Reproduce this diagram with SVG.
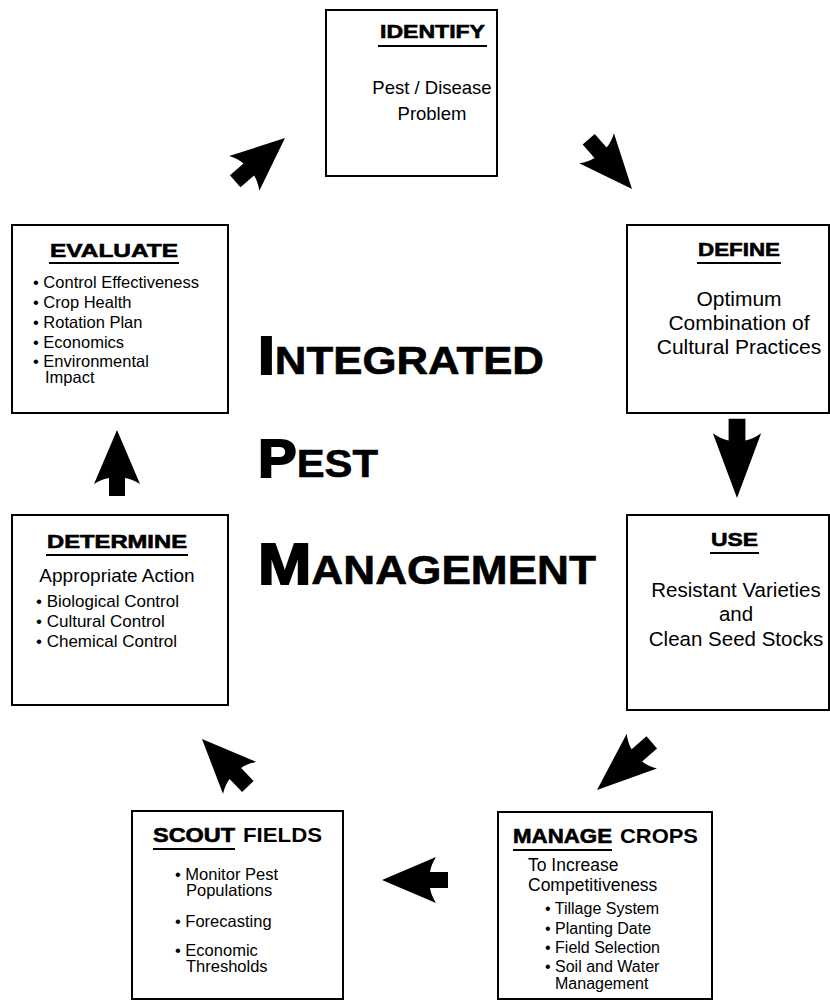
<svg xmlns="http://www.w3.org/2000/svg" xmlns:xlink="http://www.w3.org/1999/xlink" width="830" height="1000" viewBox="0 0 830 1000">
<defs>
<style>
.box{fill:#fff;stroke:#000;stroke-width:2}
.ttl{font-family:"Liberation Sans",Arial,sans-serif;font-weight:bold;font-size:19px;fill:#000;stroke:#000;stroke-width:0.6}
.ttl2{font-family:"Liberation Sans",Arial,sans-serif;font-weight:bold;font-size:19px;fill:#000}
.ul{stroke:#000;stroke-width:2}
.c{font-family:"Liberation Sans",Arial,sans-serif;font-size:19px;fill:#000;text-anchor:middle}
.b{font-family:"Liberation Sans",Arial,sans-serif;font-size:16px;fill:#000}
.big{font-family:"Liberation Sans",Arial,sans-serif;font-weight:bold;fill:#000;stroke:#000}
.arr{fill:#000}
</style>
<path id="arrow" d="M0,0 L23,54 Q15,49 8,48 L8,66 L-8,66 L-8,48 Q-15,49 -23,54 Z"/>
</defs>
<rect width="830" height="1000" fill="#fff"/>

<g id="connectors" class="arr">
<use xlink:href="#arrow" transform="translate(285,138) rotate(49)"/>
<use xlink:href="#arrow" transform="translate(632,189) rotate(139)"/>
<use xlink:href="#arrow" transform="translate(737,498) rotate(180) scale(1.05,1.2)"/>
<use xlink:href="#arrow" transform="translate(597,790) rotate(-131) scale(1,1.1)"/>
<use xlink:href="#arrow" transform="translate(382,880) rotate(-90)"/>
<use xlink:href="#arrow" transform="translate(202,739) rotate(-44)"/>
<use xlink:href="#arrow" transform="translate(117,430)"/>
</g>

<g id="identify">
<rect class="box" x="326" y="10" width="171" height="166"/>
<text class="ttl" x="380" y="38" textLength="105" lengthAdjust="spacingAndGlyphs">IDENTIFY</text>
<line class="ul" x1="378" y1="46" x2="487" y2="46"/>
<text class="c" x="432" y="94" style="font-size:18.5px">Pest / Disease</text>
<text class="c" x="432" y="120" style="font-size:18.5px">Problem</text>
</g>

<g id="define">
<rect class="box" x="627" y="225" width="202" height="188"/>
<text class="ttl" x="698" y="256" textLength="82" lengthAdjust="spacingAndGlyphs">DEFINE</text>
<line class="ul" x1="697" y1="263" x2="781" y2="263"/>
<text class="c" x="739" y="306" style="font-size:21px">Optimum</text>
<text class="c" x="739" y="330" style="font-size:21px">Combination of</text>
<text class="c" x="739" y="354" style="font-size:21px">Cultural Practices</text>
</g>

<g id="use">
<rect class="box" x="627" y="515" width="202" height="195"/>
<text class="ttl" x="711" y="546" textLength="47" lengthAdjust="spacingAndGlyphs">USE</text>
<line class="ul" x1="710" y1="553" x2="759" y2="553"/>
<text class="c" x="736" y="597" style="font-size:20.5px">Resistant Varieties</text>
<text class="c" x="736" y="621" style="font-size:20.5px">and</text>
<text class="c" x="736" y="646" style="font-size:20.5px">Clean Seed Stocks</text>
</g>

<g id="manage">
<rect class="box" x="498" y="812" width="214" height="187"/>
<text class="ttl" x="513" y="843" style="font-size:20px" textLength="99" lengthAdjust="spacingAndGlyphs">MANAGE</text>
<text class="ttl2" x="620" y="843" style="font-size:20px" textLength="78" lengthAdjust="spacingAndGlyphs">CROPS</text>
<line class="ul" x1="513" y1="850" x2="612" y2="850"/>
<text class="b" x="528" y="871" style="font-size:17.5px">To Increase</text>
<text class="b" x="528" y="891" style="font-size:17.5px">Competitiveness</text>
<text class="b" x="545" y="914">• Tillage System</text>
<text class="b" x="545" y="934">• Planting Date</text>
<text class="b" x="545" y="953">• Field Selection</text>
<text class="b" x="545" y="972">• Soil and Water</text>
<text class="b" x="555" y="989">Management</text>
</g>

<g id="scout">
<rect class="box" x="132" y="811" width="211" height="188"/>
<text class="ttl" x="153" y="842" style="font-size:20px" textLength="82" lengthAdjust="spacingAndGlyphs">SCOUT</text>
<text class="ttl2" x="243" y="842" style="font-size:20px" textLength="79" lengthAdjust="spacingAndGlyphs">FIELDS</text>
<line class="ul" x1="153" y1="849" x2="235" y2="849"/>
<text class="b" x="175" y="880" style="font-size:16.5px">• Monitor Pest</text>
<text class="b" x="186" y="896" style="font-size:16.5px">Populations</text>
<text class="b" x="175" y="927" style="font-size:16.5px">• Forecasting</text>
<text class="b" x="175" y="956" style="font-size:16.5px">• Economic</text>
<text class="b" x="186" y="972" style="font-size:16.5px">Thresholds</text>
</g>

<g id="determine">
<rect class="box" x="12" y="515" width="216" height="190"/>
<text class="ttl" x="47" y="548" textLength="140" lengthAdjust="spacingAndGlyphs">DETERMINE</text>
<line class="ul" x1="46" y1="555" x2="188" y2="555"/>
<text class="c" x="117" y="582">Appropriate Action</text>
<text class="b" x="36" y="607" style="font-size:17px">• Biological Control</text>
<text class="b" x="36" y="627" style="font-size:17px">• Cultural Control</text>
<text class="b" x="36" y="647" style="font-size:17px">• Chemical Control</text>
</g>

<g id="evaluate">
<rect class="box" x="12" y="225" width="216" height="188"/>
<text class="ttl" x="50" y="257" textLength="128" lengthAdjust="spacingAndGlyphs">EVALUATE</text>
<line class="ul" x1="49" y1="263" x2="179" y2="263"/>
<text class="b" x="33" y="288" style="font-size:16.5px">• Control Effectiveness</text>
<text class="b" x="33" y="308" style="font-size:16.5px">• Crop Health</text>
<text class="b" x="33" y="328" style="font-size:16.5px">• Rotation Plan</text>
<text class="b" x="33" y="348" style="font-size:16.5px">• Economics</text>
<text class="b" x="33" y="367" style="font-size:16.5px">• Environmental</text>
<text class="b" x="45" y="383" style="font-size:16.5px">Impact</text>
</g>

<g id="title">
<text x="258" y="374" textLength="286" lengthAdjust="spacingAndGlyphs"><tspan class="big" style="font-size:54px;stroke-width:2">I</tspan><tspan class="big" style="font-size:39px;stroke-width:0.6">NTEGRATED</tspan></text>
<text x="258" y="477" textLength="120" lengthAdjust="spacingAndGlyphs"><tspan class="big" style="font-size:54px;stroke-width:2">P</tspan><tspan class="big" style="font-size:39px;stroke-width:0.6">EST</tspan></text>
<text x="258" y="584" textLength="338" lengthAdjust="spacingAndGlyphs"><tspan class="big" style="font-size:58px;stroke-width:2">M</tspan><tspan class="big" style="font-size:40px;stroke-width:0.6">ANAGEMENT</tspan></text>
</g>
</svg>
